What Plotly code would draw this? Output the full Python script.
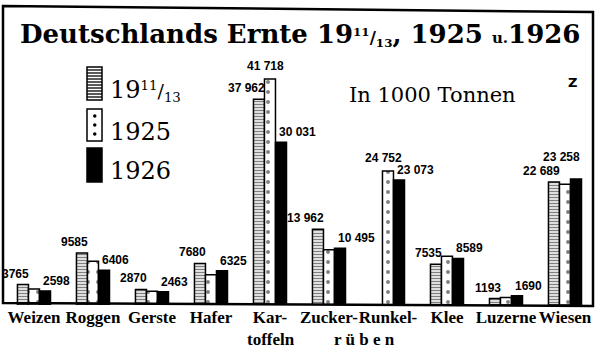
import plotly.graph_objects as go

# ---------------- data ----------------
categories = ["Weizen", "Roggen", "Gerste", "Hafer", "Kartoffeln",
              "Zuckerrüben", "Runkelrüben", "Klee", "Luzerne", "Wiesen"]
tick_line1 = ["Weizen", "Roggen", "Gerste", "Hafer", "Kar-",
              "Zucker-", "Runkel-", "Klee", "Luzerne", "Wiesen"]
series_names = ["19 11/13", "1925", "1926"]
v1911 = [3765, 9585, 2870, 7680, 37962, 13962, None, 7535, 1193, 22689]
v1925 = [2950, 8060, 2550, 5600, 41718, 10200, 24752, 9000, 1400, 22300]
v1926 = [2598, 6406, 2463, 6325, 30031, 10495, 23073, 8589, 1690, 23258]
# which values are printed in the chart
lab1911 = v1911
lab1925 = [None, None, None, None, 41718, None, 24752, None, None, None]
lab1926 = v1926

W, H = 600, 351
L, R, T, B = 3, 7, 7, 46
PW, PH = W - L - R, H - T - B


def px(x):
    return (x - L) / PW


def py(y):
    return (H - B - y) / PH


def fmt(v):
    return f"{v:,}".replace(",", " ") if v >= 10000 else str(v)


xs = list(range(len(categories)))
bargap = 0.44
bw = (1 - bargap) / 3

fig = go.Figure()
fig.add_trace(go.Bar(
    x=xs, y=v1911, name=series_names[0],
    marker=dict(color="white", line=dict(color="black", width=1.5),
                pattern=dict(shape="-", fgcolor="black", bgcolor="white",
                             size=3, solidity=0.5)),
))
fig.add_trace(go.Bar(
    x=xs, y=v1925, name=series_names[1],
    marker=dict(color="white", line=dict(color="black", width=1.5),
                pattern=dict(shape=".", fgcolor="black", bgcolor="white",
                             size=10, solidity=0.12)),
))
fig.add_trace(go.Bar(
    x=xs, y=v1926, name=series_names[2],
    marker=dict(color="black", line=dict(color="black", width=1.5)),
))

annotations = []
lab_font_b = dict(family="Liberation Sans", size=12, color="black", weight="bold")
n = len(categories)
for i in range(n):
    v = lab1911[i]
    if v is not None:
        annotations.append(dict(x=i - bw / 2 + 0.05, y=v, xref="x", yref="y",
                                text=fmt(v), showarrow=False, xanchor="right",
                                yanchor="bottom", yshift=2, font=lab_font_b))
    v = lab1925[i]
    if v is not None:
        annotations.append(dict(x=i - 0.08, y=v, xref="x", yref="y",
                                text=fmt(v), showarrow=False, xanchor="center",
                                yanchor="bottom", yshift=4, font=lab_font_b))
    v = lab1926[i]
    if v is not None:
        last = i == n - 1
        annotations.append(dict(x=(i + 1.5 * bw) if last else (i + bw / 2 + 0.02), y=v,
                                xref="x", yref="y", text=fmt(v), showarrow=False,
                                xanchor="right" if last else "left",
                                yanchor="bottom", yshift=13 if last else 1,
                                font=lab_font_b))

cat_font = dict(family="Liberation Serif", size=17, color="black", weight="bold")
# second lines of category names
annotations.append(dict(x=4.02, y=py(339), xref="x", yref="paper", text="toffeln",
                        showarrow=False, yanchor="middle", font=cat_font))
annotations.append(dict(x=5.6, y=py(339), xref="x", yref="paper", text="r ü b e n",
                        showarrow=False, yanchor="middle", font=cat_font))

# title
annotations.append(dict(
    x=px(300), y=py(35), xref="paper", yref="paper", xanchor="center", yanchor="middle",
    text=("Deutschlands Ernte 19<span style='font-size:17px'><sup>11</sup>/<sub>13</sub></span>"
          ", 1925 <span style='font-size:15px'>u.</span>1926"),
    showarrow=False, font=dict(family="DejaVu Serif", size=26, color="black", weight="bold")))

# legend labels
leg_font = dict(family="DejaVu Serif", size=24, color="black")
annotations.append(dict(x=px(108), y=py(90), xref="paper", yref="paper", xanchor="left",
                        yanchor="middle",
                        text="19<span style='font-size:19px'><sup>11</sup>/<sub>13</sub></span>",
                        showarrow=False, font=leg_font))
annotations.append(dict(x=px(108), y=py(132), xref="paper", yref="paper", xanchor="left",
                        yanchor="middle", text=series_names[1], showarrow=False, font=leg_font))
annotations.append(dict(x=px(108), y=py(171), xref="paper", yref="paper", xanchor="left",
                        yanchor="middle", text=series_names[2], showarrow=False, font=leg_font))

annotations.append(dict(x=px(347), y=py(95), xref="paper", yref="paper", xanchor="left",
                        yanchor="middle", text="In 1000 Tonnen", showarrow=False,
                        font=dict(family="DejaVu Serif", size=21, color="black")))
annotations.append(dict(x=px(572), y=py(83), xref="paper", yref="paper", xanchor="center",
                        yanchor="middle", text="Z", showarrow=False,
                        font=dict(family="DejaVu Sans", size=13, color="black", weight="bold")))

# shapes: frame and legend swatches
shapes = []
frame_path = (f"M {px(3)},{py(6)} L {px(593)},{py(12)} L {px(593)},{py(306)} "
              f"L {px(3)},{py(303)} Z")
shapes.append(dict(type="path", path=frame_path, xref="paper", yref="paper",
                   line=dict(color="black", width=2.5), layer="above"))

sx0, sx1 = 87, 102
# striped swatch
shapes.append(dict(type="rect", xref="paper", yref="paper", x0=px(sx0), x1=px(sx1),
                   y0=py(100), y1=py(67), line=dict(color="black", width=1.5), fillcolor="white"))
yy = 70
while yy < 99:
    shapes.append(dict(type="line", xref="paper", yref="paper", x0=px(sx0), x1=px(sx1),
                       y0=py(yy), y1=py(yy), line=dict(color="black", width=1.3)))
    yy += 3
# dotted swatch
shapes.append(dict(type="rect", xref="paper", yref="paper", x0=px(sx0), x1=px(sx1),
                   y0=py(141), y1=py(109), line=dict(color="black", width=1.5), fillcolor="white"))
for dy in (116, 125, 134):
    shapes.append(dict(type="circle", xref="paper", yref="paper",
                       x0=px(93), x1=px(96.5), y0=py(dy + 1.7), y1=py(dy - 1.7),
                       fillcolor="black", line=dict(width=0)))
# solid swatch
shapes.append(dict(type="rect", xref="paper", yref="paper", x0=px(sx0), x1=px(sx1),
                   y0=py(182), y1=py(148), line=dict(color="black", width=1.5), fillcolor="black"))

fig.update_layout(
    width=W, height=H,
    margin=dict(l=L, r=R, t=T, b=B, pad=0),
    paper_bgcolor="white", plot_bgcolor="white",
    barmode="group", bargap=bargap, bargroupgap=0,
    showlegend=False,
    annotations=annotations, shapes=shapes,
    xaxis=dict(range=[-0.525, 9.475], tickvals=xs, ticktext=tick_line1,
               showgrid=False, zeroline=False, showline=False, ticks="",
               tickangle=0, automargin=False, tickfont=cat_font),
    yaxis=dict(range=[0, 55000], visible=False, fixedrange=True, automargin=False),
)

fig.write_html("out.html")
